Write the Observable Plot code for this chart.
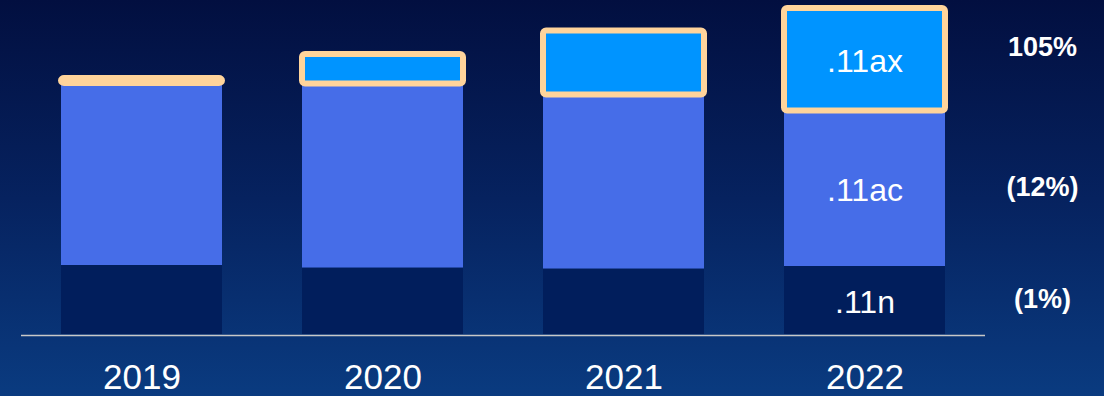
<!DOCTYPE html>
<html>
<head>
<meta charset="utf-8">
<script src="https://cdn.jsdelivr.net/npm/d3@7"></script>
<script src="https://cdn.jsdelivr.net/npm/@observablehq/plot@0.6"></script>
<style>
  html, body { margin: 0; padding: 0; }
  body {
    width: 1104px; height: 396px; overflow: hidden;
    background: linear-gradient(to bottom, #020f40 0%, #06225f 50%, #0a3b80 100%);
    font-family: "Liberation Sans", Arial, sans-serif;
  }
  svg { display: block; background: transparent; }
</style>
</head>
<body>
<div id="chart"></div>
<script>
// ---- data (relative units) ----
const years = ["2019", "2020", "2021", "2022"];
const seriesNames = [".11n", ".11ac", ".11ax"];
const n11  = [69, 66.5, 65.5, 68];
const ac11 = [182, 184, 174, 155.5];
const ax11 = [5, 29.5, 64, 102.5];
const growthLabels = ["(1%)", "(12%)", "105%"];
const colors = ["#011e5c", "#466de8", "#0094ff"];
const outline = "#ffd49b";

const valuesBySeries = [n11, ac11, ax11];
const data = [];
seriesNames.forEach((s, si) => {
  years.forEach((y, yi) => {
    data.push({year: y, series: s, value: valuesBySeries[si][yi], si});
  });
});

const stackOpts = {x: "year", y: "value", z: "series"};
const isAx = d => d.series === ".11ax" ? 1 : 0;

const chart = Plot.plot({
  width: 1104,
  height: 396,
  marginTop: 0,
  marginBottom: 62,
  marginLeft: 21,
  marginRight: 119,
  style: {background: "transparent", color: "white", fontFamily: "'Liberation Sans', Arial, sans-serif", overflow: "visible"},
  x: {domain: years, paddingInner: 0.332, paddingOuter: 0.166, label: null},
  y: {domain: [0, 334], axis: null},
  color: {domain: seriesNames, range: colors},
  opacity: {type: "identity"},
  marks: [
    Plot.barY(data, Plot.stackY({
      ...stackOpts,
      fill: "series"
    })),
    Plot.barY(data, Plot.stackY({
      ...stackOpts,
      fill: "series",
      fillOpacity: isAx,
      stroke: outline,
      strokeWidth: 6,
      strokeOpacity: isAx,
      rx: 3
    })),
    Plot.ruleY([0], {stroke: "#c8c8c8", strokeWidth: 1.5, dy: 1}),
    Plot.axisX({tickSize: 0, tickPadding: 30, fontSize: 35, fill: "white", label: null}),
    Plot.text(data, Plot.stackY({
      ...stackOpts,
      text: d => d.year === "2022" ? d.series : null,
      fill: "white",
      fontSize: 32,
      dy: 2
    })),
    Plot.text(data, Plot.stackY({
      ...stackOpts,
      text: d => d.year === "2022" && d.si < 2 ? growthLabels[d.si] : null,
      fill: "white",
      fontSize: 27,
      fontWeight: "bold",
      dx: 177.5,
      dy: -1
    })),
    Plot.text(data, Plot.stackY({
      ...stackOpts,
      text: d => d.year === "2022" && d.si === 2 ? growthLabels[d.si] : null,
      fill: "white",
      fontSize: 27,
      fontWeight: "bold",
      dx: 177.5,
      dy: -12
    }))
  ]
});
document.getElementById("chart").appendChild(chart);
</script>
</body>
</html>
